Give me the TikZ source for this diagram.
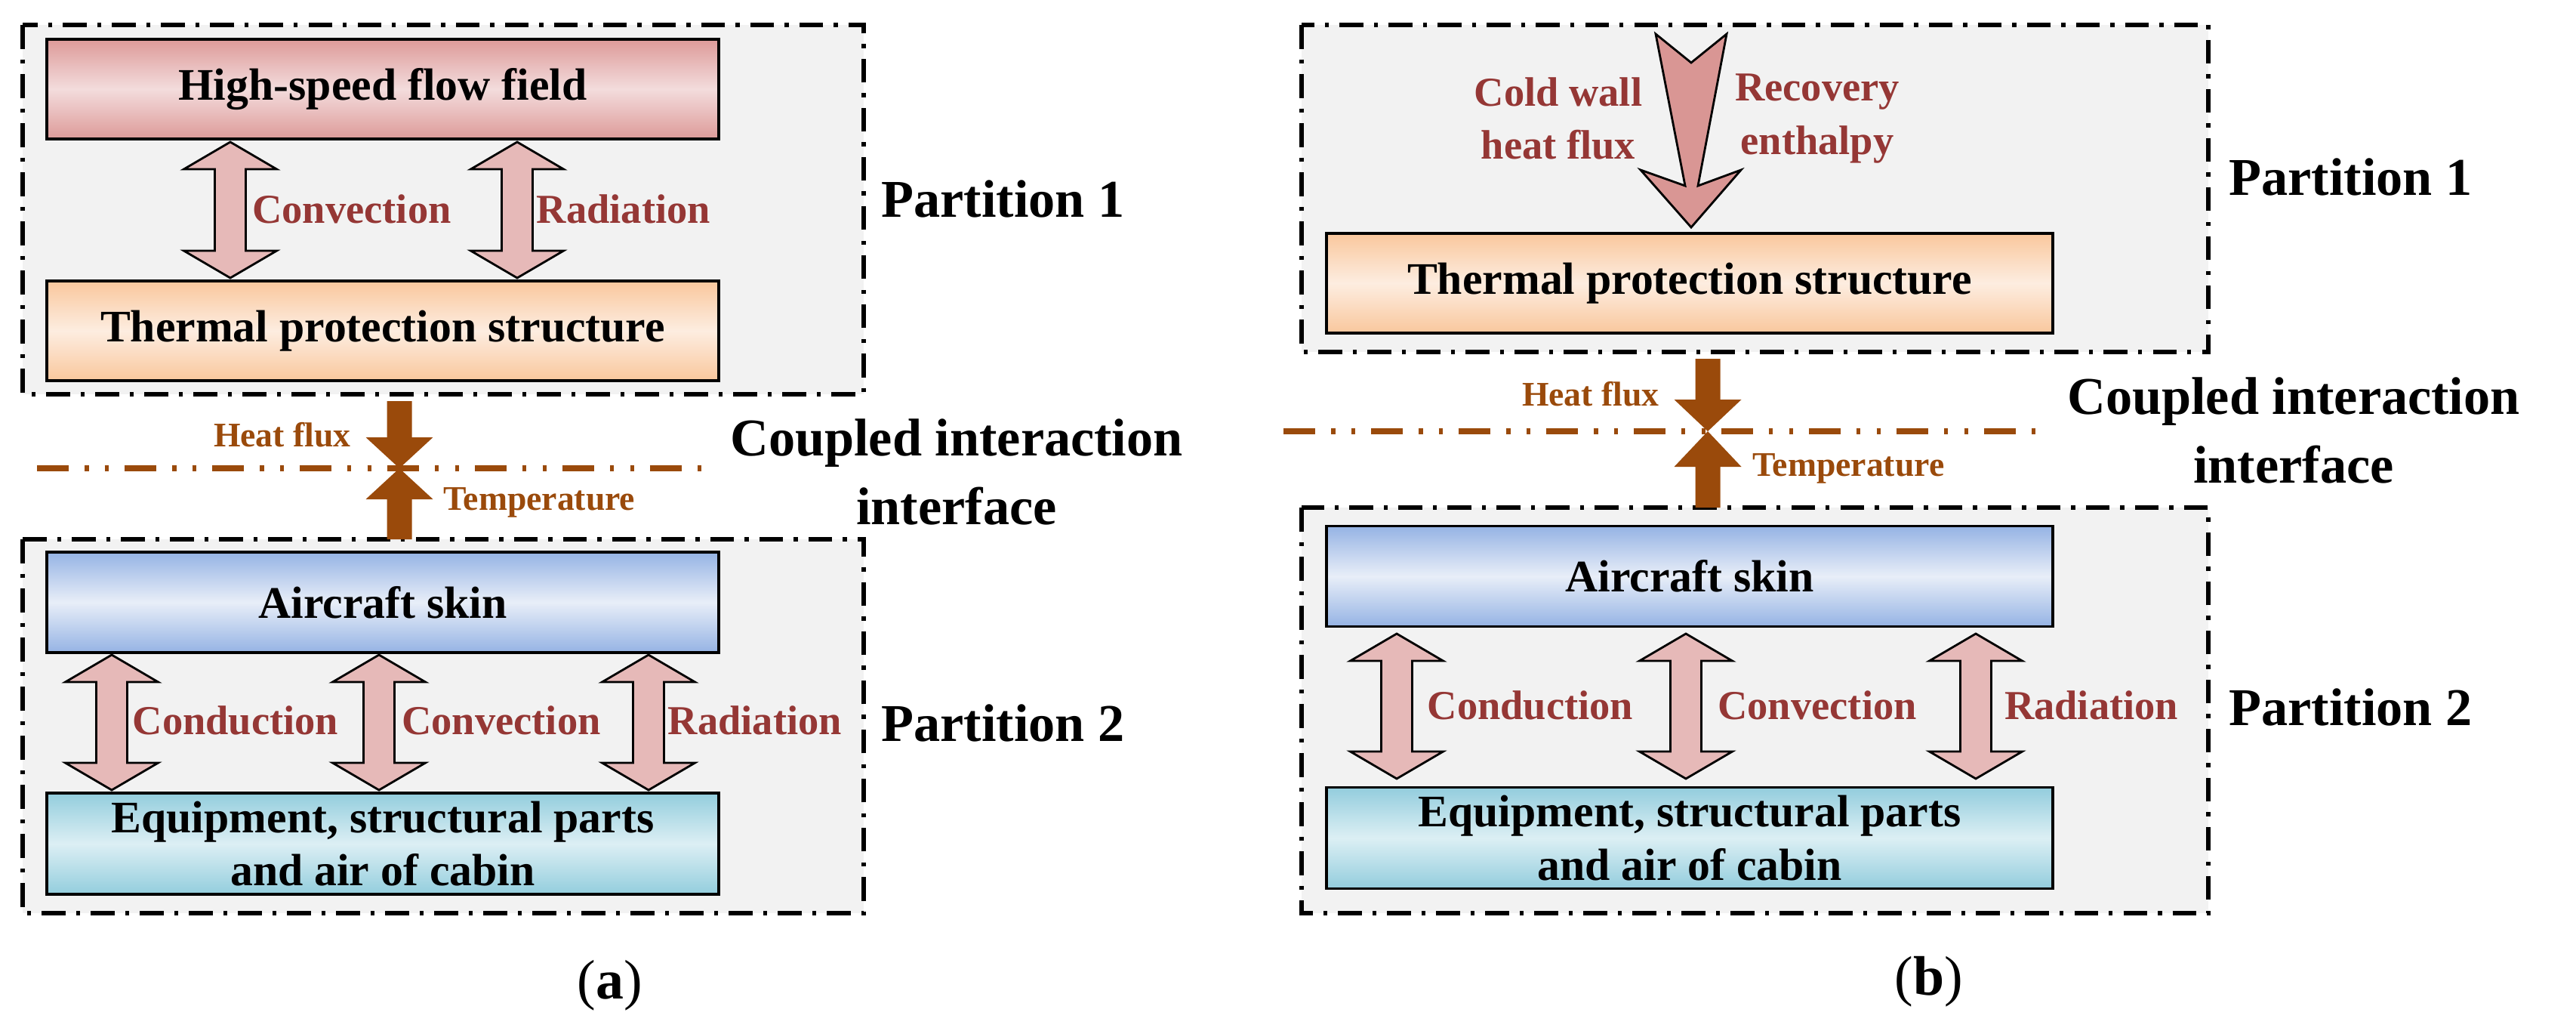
\documentclass[tikz,border=0pt]{standalone}
\usepackage{fontspec}
\setmainfont{Liberation Serif}
\usepackage{tikz}
\usetikzlibrary{positioning}

\definecolor{frameGray}{HTML}{F2F2F2}
\definecolor{labelRed}{HTML}{953735}
\definecolor{fluxBrown}{HTML}{9A4A0B}
\definecolor{arrowPink}{HTML}{E6B9B8}
\definecolor{bigPink}{HTML}{D99694}
\definecolor{redEdge}{HTML}{DD9A99}
\definecolor{redMid}{HTML}{F3DCDC}
\definecolor{orEdge}{HTML}{F9C79D}
\definecolor{orMid}{HTML}{FDEDE0}
\definecolor{blEdge}{HTML}{95B3E4}
\definecolor{blMid}{HTML}{E8EEF8}
\definecolor{cyEdge}{HTML}{93CDDD}
\definecolor{cyMid}{HTML}{DCEFF4}

% double arrow between two boxes: x, top y, bottom y
\newcommand{\dblarrow}[3]{%
  \fill[arrowPink, draw=black, line width=0.8pt]
    (#1,#2) -- ++(0.615,-0.36) -- ++(-0.41,0) |- (#1+0.205,#3+0.36) -- ++(0.41,0)
    -- (#1,#3) -- ++(-0.615,0.36) -- ++(0.41,0) |- (#1-0.205,#2-0.36) -- ++(-0.41,0) -- cycle;}
% heat flux / temperature arrows meeting on the interface line
\newcommand{\fluxarrows}[6]{% x, shaft top, head start, tip, head end, shaft bottom
  \fill[fluxBrown] (#1-0.165,#2) rectangle (#1+0.165,#3)
    (#1-0.445,#3) -- (#1+0.445,#3) -- (#1,#4) -- cycle
    (#1-0.445,#5) -- (#1+0.445,#5) -- (#1,#4) -- cycle
    (#1-0.165,#5) rectangle (#1+0.165,#6);}

\begin{document}
\begin{tikzpicture}[
    frame/.style={fill=frameGray, draw=black, line width=1.5pt, dash pattern=on 9pt off 4pt on 1.5pt off 4pt},
    box/.style={draw=black, line width=1pt, minimum height=#1, inner sep=0pt, font=\fontsize{17}{20}\selectfont\bfseries, align=center},
    red box/.style={box=1.32cm, top color=redEdge, bottom color=redEdge, middle color=redMid},
    orange box/.style={box=1.32cm, top color=orEdge, bottom color=orEdge, middle color=orMid},
    blue box/.style={box=1.33cm, top color=blEdge, bottom color=blEdge, middle color=blMid},
    cyan box/.style={box=1.34cm, top color=cyEdge, bottom color=cyEdge, middle color=cyMid},
    mode/.style={text=labelRed, font=\fontsize{15.5}{18}\selectfont\bfseries, align=center},
    flux/.style={text=fluxBrown, font=\fontsize{13}{15}\selectfont\bfseries},
    part/.style={font=\fontsize{20}{22}\selectfont\bfseries, anchor=west},
    coupled/.style={font=\fontsize{20}{26}\selectfont\bfseries, align=center},
    caption/.style={font=\fontsize{21}{24}\selectfont}]
\useasboundingbox (0,0) rectangle (34.12,-13.68);

% ---- (a)
\filldraw[frame] (0.30,-0.33) rectangle (11.44,-5.22);
\filldraw[frame] (0.30,-7.14) rectangle (11.44,-12.09);
\node[red box, minimum width=8.9cm] (flowA) at (5.07,-1.18) {High-speed flow field};
\node[orange box, minimum width=8.9cm] (tpsA) at (5.07,-4.38) {Thermal protection structure};
\dblarrow{3.05}{-1.88}{-3.68}
\dblarrow{6.85}{-1.88}{-3.68}
\node[mode] (convA) at (4.66,-2.77) {Convection};
\node[mode] (radA) at (8.26,-2.77) {Radiation};
\node[part] (p1A) at (11.55,-2.63) {Partition 1};

\draw[fluxBrown, line width=2.2pt, dash pattern=on 12pt off 6pt on 1.5pt off 6pt on 1.5pt off 6pt] (0.49,-6.20) -- (9.49,-6.20);
\fluxarrows{5.29}{-5.31}{-5.79}{-6.20}{-6.61}{-7.14}
\node[flux, anchor=east] (hfA) at (4.77,-5.76) {Heat flux};
\node[flux, anchor=west] (tempA) at (5.75,-6.65) {Temperature};
\node[coupled] (cplA) at (12.67,-6.25) {Coupled interaction\\interface};

\node[blue box, minimum width=8.9cm] (skinA) at (5.07,-7.975) {Aircraft skin};
\node[cyan box, minimum width=8.9cm] (equipA) at (5.07,-11.17) {Equipment, structural parts\\and air of cabin};
\dblarrow{1.48}{-8.67}{-10.46}
\dblarrow{5.02}{-8.67}{-10.46}
\dblarrow{8.59}{-8.67}{-10.46}
\node[mode] (condA) at (3.12,-9.54) {Conduction};
\node[mode] (conv2A) at (6.64,-9.54) {Convection};
\node[mode] (rad2A) at (10.00,-9.54) {Radiation};
\node[part] (p2A) at (11.55,-9.57) {Partition 2};
\node[caption] (capA) at (8.08,-13.05) {(\textbf{a})};

% ---- (b)
\filldraw[frame] (17.24,-0.33) rectangle (29.25,-4.66);
\filldraw[frame] (17.24,-6.72) rectangle (29.25,-12.09);
\node[orange box, minimum width=9.62cm] (tpsB) at (22.38,-3.75) {Thermal protection structure};
\fill[bigPink, draw=black, line width=0.8pt] (21.93,-0.45) -- (22.40,-0.83) -- (22.87,-0.45)
  -- (22.49,-2.46) -- (23.06,-2.25) -- (22.40,-3.01) -- (21.73,-2.25) -- (22.32,-2.46) -- cycle;
\node[mode] (cwB) at (20.64,-1.57) {Cold wall\\[2pt]heat flux};
\node[mode] (reB) at (24.07,-1.57) {Recovery\\[2pt]enthalpy};
\node[part] (p1B) at (29.40,-2.34) {Partition 1};

\draw[fluxBrown, line width=2.2pt, dash pattern=on 12pt off 6pt on 1.5pt off 6pt on 1.5pt off 6pt] (17.00,-5.71) -- (27.15,-5.71);
\fluxarrows{22.62}{-4.75}{-5.29}{-5.71}{-6.18}{-6.72}
\node[flux, anchor=east] (hfB) at (22.10,-5.22) {Heat flux};
\node[flux, anchor=west] (tempB) at (23.09,-6.20) {Temperature};
\node[coupled] (cplB) at (30.38,-5.70) {Coupled interaction\\interface};

\node[blue box, minimum width=9.62cm] (skinB) at (22.38,-7.63) {Aircraft skin};
\node[cyan box, minimum width=9.62cm] (equipB) at (22.38,-11.095) {Equipment, structural parts\\and air of cabin};
\dblarrow{18.50}{-8.39}{-10.31}
\dblarrow{22.33}{-8.39}{-10.31}
\dblarrow{26.17}{-8.39}{-10.31}
\node[mode] (condB) at (20.27,-9.34) {Conduction};
\node[mode] (convB) at (24.07,-9.34) {Convection};
\node[mode] (radB) at (27.70,-9.34) {Radiation};
\node[part] (p2B) at (29.40,-9.36) {Partition 2};
\node[caption] (capB) at (25.55,-13.00) {(\textbf{b})};
\end{tikzpicture}
\end{document}
